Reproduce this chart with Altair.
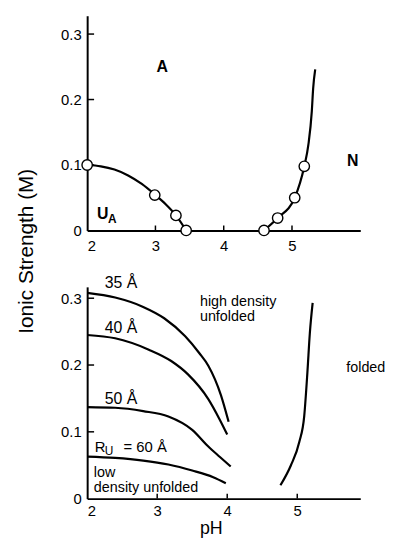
import altair as alt
import pandas as pd

FONT = "Liberation Sans"

# ---------------- top panel data ----------------
top_pts_x = [2.0, 2.99, 3.30, 3.45, 4.59, 4.79, 5.04, 5.18]
top_pts_y = [0.100, 0.054, 0.023, 0.0, 0.0, 0.019, 0.050, 0.098]

ua_curve_x = [2.0, 2.2, 2.4, 2.6, 2.8, 3.0, 3.15, 3.3, 3.45]
ua_curve_y = [0.100, 0.098, 0.093, 0.084, 0.071, 0.054, 0.040, 0.023, 0.0]

n_curve_x = [4.59, 4.79, 5.04, 5.18, 5.24, 5.29, 5.31, 5.34]
n_curve_y = [0.0, 0.019, 0.050, 0.098, 0.131, 0.182, 0.217, 0.246]

top_x_ticks = [2, 3, 4, 5]
y_ticks = [0, 0.1, 0.2, 0.3]

# ---------------- bottom panel data ----------------
r35_x = [2.0, 2.4, 2.8, 3.1, 3.4, 3.6, 3.73, 3.91, 4.02]
r35_y = [0.308, 0.301, 0.287, 0.270, 0.243, 0.218, 0.199, 0.155, 0.115]

r40_x = [2.0, 2.4, 2.88, 3.2, 3.44, 3.73, 3.89, 4.0]
r40_y = [0.245, 0.240, 0.223, 0.206, 0.186, 0.149, 0.119, 0.096]

r50_x = [2.0, 2.4, 2.8, 3.16, 3.5, 3.73, 3.9, 4.05]
r50_y = [0.137, 0.136, 0.131, 0.123, 0.103, 0.078, 0.062, 0.048]

r60_x = [2.0, 2.4, 2.8, 3.16, 3.5, 3.8, 3.98]
r60_y = [0.063, 0.061, 0.057, 0.051, 0.042, 0.032, 0.023]

fold_x = [4.76, 4.91, 5.03, 5.10, 5.145, 5.18, 5.22]
fold_y = [0.020, 0.050, 0.085, 0.124, 0.189, 0.248, 0.293]

bot_x_ticks = [2, 3, 4, 5]

# ---------------- labels ----------------
top_bold_text = ["A", "N"]
top_bold_x = [3.10, 5.89]
top_bold_y = [0.250, 0.106]

ua_main = ["U"]
ua_sub = ["A"]
ua_x = [2.145]
ua_y = [0.0177]

ang_text = ["35 Å", "40 Å", "50 Å"]
ang_x = [2.25, 2.25, 2.25]
ang_y = [0.316, 0.248, 0.142]

bot_text = ["low", "density unfolded", "high density", "unfolded", "folded"]
bot_text_x = [2.095, 2.095, 3.61, 3.61, 5.70]
bot_text_y = [0.032, 0.0100, 0.2885, 0.266, 0.189]

ru_main = ["R"]
ru_sub = ["U"]
ru_rest = ["= 60 Å"]
ru_x = [2.11]
ru_y = [0.070]

# ---------------- build ----------------
TW, TH = 276, 217
BW, BH = 276, 214
TXD = [2, 6]
TYD = [0, 0.328]
BXD = [2, 5.9]
BYD = [0, 0.317]

ylabel_expr = "datum.value == 0 ? '0' : format(datum.value, '.1f')"


def xs(domain):
    return alt.Scale(domain=domain, nice=False, zero=False)


def ys(domain):
    return alt.Scale(domain=domain, nice=False, zero=False)


def yaxis():
    return alt.Axis(values=y_ticks, labelExpr=ylabel_expr, title=None, ticks=False, tickSize=0,
                    labelPadding=6, domainWidth=2, domainColor="black",
                    labelFontSize=15, labelFont=FONT, labelColor="black", grid=False)


# top panel
txa = alt.Axis(values=top_x_ticks, format="d", title=None, ticks=False, tickSize=0,
               labelPadding=8, domainWidth=2, domainColor="black",
               labelFontSize=15, labelFont=FONT, labelColor="black", grid=False)

ua_df = pd.DataFrame({"x": ua_curve_x, "y": ua_curve_y, "s": "ua"})
n_df = pd.DataFrame({"x": n_curve_x, "y": n_curve_y, "s": "n"})
top_lines_df = pd.concat([ua_df, n_df])

top_lines = alt.Chart(top_lines_df).mark_line(
    color="black", strokeWidth=2.2, interpolate="monotone"
).encode(
    x=alt.X("x:Q", scale=xs(TXD), axis=txa),
    y=alt.Y("y:Q", scale=ys(TYD), axis=yaxis()),
    detail="s:N",
)

top_pts = alt.Chart(pd.DataFrame({"x": top_pts_x, "y": top_pts_y})).mark_point(
    shape="circle", filled=True, fill="white", stroke="black", strokeWidth=1.4,
    size=110, opacity=1
).encode(
    x=alt.X("x:Q", scale=xs(TXD)),
    y=alt.Y("y:Q", scale=ys(TYD)),
)

top_xt = alt.Chart(pd.DataFrame({"v": top_x_ticks[1:]})).mark_rule(
    color="black", strokeWidth=1.5
).encode(
    x=alt.X("v:Q", scale=xs(TXD)),
    y=alt.value(TH),
    y2=alt.value(TH - 5),
)
top_yt = alt.Chart(pd.DataFrame({"v": y_ticks[1:]})).mark_rule(
    color="black", strokeWidth=1.5
).encode(
    y=alt.Y("v:Q", scale=ys(TYD)),
    x=alt.value(0),
    x2=alt.value(7),
)

top_bold = alt.Chart(pd.DataFrame({"x": top_bold_x, "y": top_bold_y, "t": top_bold_text})).mark_text(
    font=FONT, fontSize=16, fontWeight="bold", align="center", baseline="middle", color="black"
).encode(
    x=alt.X("x:Q", scale=xs(TXD)),
    y=alt.Y("y:Q", scale=ys(TYD)),
    text="t:N",
)

ua_df2 = pd.DataFrame({"x": ua_x, "y": ua_y, "m": ua_main, "s": ua_sub})
ua_u = alt.Chart(ua_df2).mark_text(
    font=FONT, fontSize=16, fontWeight="bold", align="left", baseline="alphabetic", color="black"
).encode(x=alt.X("x:Q", scale=xs(TXD)), y=alt.Y("y:Q", scale=ys(TYD)), text="m:N")
ua_a = alt.Chart(ua_df2).mark_text(
    font=FONT, fontSize=12, fontWeight="bold", align="left", baseline="alphabetic", color="black",
    dx=11, dy=4
).encode(x=alt.X("x:Q", scale=xs(TXD)), y=alt.Y("y:Q", scale=ys(TYD)), text="s:N")

ytitle = alt.Chart(pd.DataFrame({"t": ["Ionic Strength (M)"]})).mark_text(
    font=FONT, fontSize=21, angle=270, align="center", baseline="middle", color="black"
).encode(x=alt.value(-61), y=alt.value(238), text="t:N")

top = alt.layer(top_lines, top_xt, top_yt, top_pts, top_bold, ua_u, ua_a, ytitle).properties(
    width=TW, height=TH
)

# bottom panel
bxa = alt.Axis(values=bot_x_ticks, format="d", title="pH", ticks=False, tickSize=0,
               labelPadding=5, domainWidth=2, domainColor="black",
               labelFontSize=15, labelFont=FONT, labelColor="black", grid=False,
               titleFont=FONT, titleFontSize=18, titleFontWeight="normal", titleColor="black",
               titlePadding=1, titleX=125)

frames = []
for name, xv, yv in [("35", r35_x, r35_y), ("40", r40_x, r40_y), ("50", r50_x, r50_y),
                     ("60", r60_x, r60_y), ("fold", fold_x, fold_y)]:
    frames.append(pd.DataFrame({"x": xv, "y": yv, "s": name}))
bot_df = pd.concat(frames)

bot_lines = alt.Chart(bot_df).mark_line(
    color="black", strokeWidth=2.2, interpolate="monotone"
).encode(
    x=alt.X("x:Q", scale=xs(BXD), axis=bxa),
    y=alt.Y("y:Q", scale=ys(BYD), axis=yaxis()),
    detail="s:N",
)

bot_xt = alt.Chart(pd.DataFrame({"v": bot_x_ticks[1:]})).mark_rule(
    color="black", strokeWidth=1.5
).encode(
    x=alt.X("v:Q", scale=xs(BXD)),
    y=alt.value(BH),
    y2=alt.value(BH - 5),
)
bot_yt = alt.Chart(pd.DataFrame({"v": y_ticks[1:]})).mark_rule(
    color="black", strokeWidth=1.5
).encode(
    y=alt.Y("v:Q", scale=ys(BYD)),
    x=alt.value(0),
    x2=alt.value(7),
)

ang_labels = alt.Chart(pd.DataFrame({"x": ang_x, "y": ang_y, "t": ang_text})).mark_text(
    font=FONT, fontSize=16, align="left", baseline="alphabetic", color="black"
).encode(x=alt.X("x:Q", scale=xs(BXD)), y=alt.Y("y:Q", scale=ys(BYD)), text="t:N")

bot_labels = alt.Chart(pd.DataFrame({"x": bot_text_x, "y": bot_text_y, "t": bot_text})).mark_text(
    font=FONT, fontSize=14.5, align="left", baseline="alphabetic", color="black"
).encode(x=alt.X("x:Q", scale=xs(BXD)), y=alt.Y("y:Q", scale=ys(BYD)), text="t:N")

ru_df = pd.DataFrame({"x": ru_x, "y": ru_y, "m": ru_main, "s": ru_sub, "r": ru_rest})
ru_r = alt.Chart(ru_df).mark_text(
    font=FONT, fontSize=15, align="left", baseline="alphabetic", color="black"
).encode(x=alt.X("x:Q", scale=xs(BXD)), y=alt.Y("y:Q", scale=ys(BYD)), text="m:N")
ru_u = alt.Chart(ru_df).mark_text(
    font=FONT, fontSize=12, align="left", baseline="alphabetic", color="black", dx=10, dy=3
).encode(x=alt.X("x:Q", scale=xs(BXD)), y=alt.Y("y:Q", scale=ys(BYD)), text="s:N")
ru_rest_m = alt.Chart(ru_df).mark_text(
    font=FONT, fontSize=15, align="left", baseline="alphabetic", color="black", dx=29
).encode(x=alt.X("x:Q", scale=xs(BXD)), y=alt.Y("y:Q", scale=ys(BYD)), text="r:N")

bottom = alt.layer(bot_lines, bot_xt, bot_yt, ang_labels, bot_labels, ru_r, ru_u, ru_rest_m).properties(
    width=BW, height=BH
)

chart = alt.vconcat(top, bottom, spacing=57, bounds="flush").configure_view(
    stroke=None
).properties(
    padding={"left": 8, "top": 5, "right": 0, "bottom": 0},
    background="white",
)

chart.save("out.html", embed_options={"renderer": "svg", "actions": False})
